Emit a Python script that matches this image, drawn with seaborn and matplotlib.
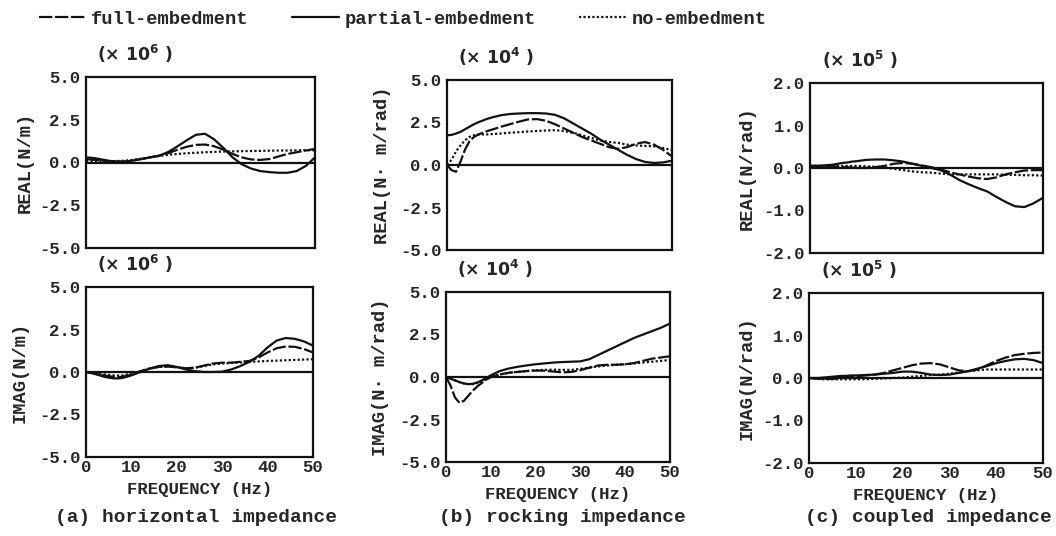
import numpy as np
import pandas as pd
import matplotlib
matplotlib.use("Agg")
import matplotlib.pyplot as plt
from matplotlib.lines import Line2D
import seaborn as sns

sns.set_style("white")
plt.rcParams["font.family"] = ["Liberation Mono", "DejaVu Sans"]
plt.rcParams["mathtext.default"] = "regular"

# Frequency grid (Hz) shared by every curve
FREQ = [0, 1, 2, 3, 4, 5, 6, 7, 8, 9, 10, 12, 14, 16, 18, 20, 22, 24, 26,
        28, 30, 32, 34, 36, 38, 40, 42, 44, 46, 48, 50]

CASES = ["full-embedment", "partial-embedment", "no-embedment"]

# (a) horizontal impedance
H_REAL_FULL = [0.2, 0.18, 0.15, 0.12, 0.1, 0.08, 0.06, 0.05, 0.05, 0.07, 0.1, 0.2, 0.3, 0.4, 0.55,
               0.75, 0.92, 1.03, 1.05, 0.95, 0.75, 0.5, 0.3, 0.18, 0.15, 0.2, 0.35, 0.5, 0.6, 0.7, 0.8]
H_REAL_PART = [0.3, 0.28, 0.25, 0.2, 0.15, 0.1, 0.08, 0.06, 0.05, 0.07, 0.1, 0.2, 0.3, 0.4, 0.62,
               0.95, 1.3, 1.62, 1.68, 1.35, 0.85, 0.3, -0.1, -0.35, -0.5, -0.56, -0.6, -0.6, -0.5, -0.2, 0.3]
H_REAL_NONE = [0.1, 0.1, 0.09, 0.08, 0.08, 0.08, 0.08, 0.09, 0.1, 0.12, 0.15, 0.22, 0.3, 0.38, 0.45,
               0.5, 0.54, 0.57, 0.6, 0.62, 0.64, 0.65, 0.66, 0.67, 0.68, 0.69, 0.7, 0.7, 0.71, 0.72, 0.72]
H_IMAG_FULL = [0.0, -0.04, -0.1, -0.15, -0.2, -0.25, -0.28, -0.3, -0.28, -0.22, -0.15, 0.05, 0.2, 0.3, 0.32,
               0.28, 0.22, 0.25, 0.38, 0.5, 0.55, 0.55, 0.6, 0.65, 0.85, 1.15, 1.4, 1.5, 1.48, 1.35, 1.15]
H_IMAG_PART = [0.0, -0.05, -0.12, -0.2, -0.28, -0.33, -0.37, -0.38, -0.35, -0.28, -0.2, 0.0, 0.2, 0.35, 0.4,
               0.3, 0.15, 0.05, 0.0, 0.0, 0.02, 0.15, 0.35, 0.6, 0.95, 1.45, 1.85, 2.0, 1.95, 1.8, 1.55]
H_IMAG_NONE = [0.0, -0.03, -0.06, -0.1, -0.14, -0.17, -0.2, -0.21, -0.2, -0.15, -0.1, 0.05, 0.2, 0.3, 0.32,
               0.28, 0.22, 0.25, 0.35, 0.45, 0.5, 0.53, 0.56, 0.6, 0.62, 0.65, 0.67, 0.69, 0.71, 0.73, 0.75]

# (b) rocking impedance
R_REAL_FULL = [0.0, -0.3, -0.4, 0.2, 0.9, 1.4, 1.65, 1.8, 1.9, 2.0, 2.08, 2.25, 2.4, 2.55, 2.68,
               2.7, 2.6, 2.4, 2.15, 1.9, 1.65, 1.45, 1.25, 1.05, 0.95, 1.05, 1.25, 1.35, 1.2, 0.9, 0.5]
R_REAL_PART = [1.75, 1.77, 1.85, 1.95, 2.1, 2.25, 2.4, 2.52, 2.62, 2.72, 2.8, 2.93, 3.0, 3.03, 3.05,
               3.05, 3.03, 2.95, 2.75, 2.45, 2.15, 1.85, 1.5, 1.2, 0.9, 0.6, 0.35, 0.18, 0.12, 0.15, 0.25]
R_REAL_NONE = [0.0, 0.3, 0.8, 1.15, 1.45, 1.65, 1.75, 1.78, 1.8, 1.8, 1.82, 1.85, 1.9, 1.93, 1.97,
               2.0, 2.03, 2.05, 2.0, 1.9, 1.75, 1.6, 1.45, 1.35, 1.3, 1.2, 1.15, 1.12, 1.1, 1.0, 0.88]
R_IMAG_FULL = [0.0, -0.5, -1.2, -1.52, -1.4, -1.1, -0.8, -0.55, -0.35, -0.15, 0.0, 0.15, 0.25, 0.3, 0.35,
               0.38, 0.37, 0.32, 0.27, 0.3, 0.4, 0.55, 0.68, 0.72, 0.72, 0.75, 0.82, 0.95, 1.08, 1.15, 1.22]
R_IMAG_PART = [0.0, -0.1, -0.2, -0.3, -0.38, -0.42, -0.4, -0.32, -0.2, -0.05, 0.1, 0.35, 0.5, 0.6, 0.68,
               0.75, 0.8, 0.85, 0.88, 0.9, 0.92, 1.05, 1.3, 1.55, 1.8, 2.05, 2.3, 2.5, 2.7, 2.9, 3.15]
R_IMAG_NONE = [0.0, -0.1, -0.2, -0.3, -0.38, -0.42, -0.42, -0.35, -0.25, -0.12, 0.0, 0.15, 0.25, 0.3, 0.35,
               0.4, 0.42, 0.43, 0.42, 0.42, 0.48, 0.55, 0.62, 0.68, 0.72, 0.75, 0.8, 0.85, 0.9, 0.95, 1.0]

# (c) coupled impedance
C_REAL_FULL = [0.05, 0.05, 0.05, 0.05, 0.04, 0.04, 0.03, 0.02, 0.02, 0.01, 0.0, 0.0, 0.02, 0.05, 0.1,
               0.12, 0.1, 0.06, 0.02, -0.03, -0.1, -0.15, -0.2, -0.24, -0.26, -0.22, -0.15, -0.1, -0.06, -0.05, -0.05]
C_REAL_PART = [0.05, 0.05, 0.05, 0.06, 0.07, 0.08, 0.1, 0.12, 0.13, 0.15, 0.16, 0.19, 0.2, 0.2, 0.18,
               0.15, 0.1, 0.05, 0.0, -0.05, -0.15, -0.28, -0.38, -0.47, -0.55, -0.68, -0.8, -0.9, -0.92, -0.83, -0.7]
C_REAL_NONE = [0.05, 0.05, 0.05, 0.05, 0.05, 0.05, 0.05, 0.05, 0.05, 0.05, 0.05, 0.04, 0.03, 0.01, -0.02,
               -0.05, -0.08, -0.1, -0.11, -0.13, -0.15, -0.15, -0.15, -0.15, -0.15, -0.15, -0.16, -0.16, -0.17, -0.17, -0.18]
C_IMAG_FULL = [0.0, -0.01, -0.02, -0.02, -0.02, -0.02, -0.01, 0.0, 0.02, 0.03, 0.04, 0.06, 0.08, 0.12, 0.18,
               0.24, 0.3, 0.34, 0.35, 0.32, 0.25, 0.18, 0.16, 0.2, 0.3, 0.4, 0.48, 0.54, 0.57, 0.59, 0.6]
C_IMAG_PART = [0.0, 0.0, 0.0, 0.01, 0.02, 0.03, 0.04, 0.05, 0.05, 0.06, 0.06, 0.07, 0.08, 0.1, 0.12,
               0.15, 0.15, 0.12, 0.08, 0.07, 0.08, 0.12, 0.16, 0.22, 0.28, 0.35, 0.4, 0.44, 0.45, 0.42, 0.35]
C_IMAG_NONE = [0.0, -0.01, -0.02, -0.03, -0.03, -0.03, -0.03, -0.03, -0.03, -0.03, -0.03, -0.03, -0.02, -0.01, 0.0,
               0.01, 0.03, 0.05, 0.07, 0.08, 0.1, 0.13, 0.16, 0.18, 0.2, 0.2, 0.2, 0.2, 0.2, 0.2, 0.2]

Y_TICKS_HR = [-5.0, -2.5, 0.0, 2.5, 5.0]
Y_TICKS_C = [-2.0, -1.0, 0.0, 1.0, 2.0]
X_TICKS = [0, 10, 20, 30, 40, 50]

W, H = 1056, 536
fig = plt.figure(figsize=(W / 100, H / 100), dpi=100)

INK = "#111111"
PALETTE = {c: INK for c in CASES}
DASHES = {"full-embedment": (6, 1.2), "partial-embedment": "", "no-embedment": (1, 1)}
LW = 1.6


def px_axes(left, right, top, bottom):
    return fig.add_axes([left / W, 1 - bottom / H, (right - left) / W, (bottom - top) / H])


def draw(ax, full, part, none, yticks, ylabel, scale, bottom_row):
    df = pd.DataFrame({
        "freq": FREQ * 3,
        "value": list(full) + list(part) + list(none),
        "case": [CASES[0]] * len(FREQ) + [CASES[1]] * len(FREQ) + [CASES[2]] * len(FREQ),
    })
    sns.lineplot(data=df, x="freq", y="value", hue="case", style="case",
                 palette=PALETTE, dashes=DASHES, linewidth=LW, ax=ax, legend=False)
    ax.axhline(0, color=INK, lw=LW)
    ax.set_xlim(0, 50)
    ax.set_ylim(yticks[0], yticks[-1])
    ax.set_yticks(yticks)
    ax.set_yticklabels([f"{t:.1f}" for t in yticks], fontsize=12.5, fontweight="bold")
    ax.set_xticks(X_TICKS)
    if bottom_row:
        ax.set_xticklabels([str(t) for t in X_TICKS], fontsize=12.5, fontweight="bold")
        ax.set_xlabel("FREQUENCY (Hz)", fontsize=12.5, fontweight="bold", labelpad=5)
    else:
        ax.set_xticklabels([])
        ax.set_xlabel("")
    ax.set_ylabel(ylabel, fontsize=13.5, fontweight="bold")
    ax.tick_params(axis="y", direction="out", length=3, width=1.2, pad=1, color=INK)
    ax.tick_params(axis="x", direction="in", length=3, width=1.2, pad=2, color=INK)
    for s in ax.spines.values():
        s.set_color(INK)
        s.set_linewidth(1.6)
    ax.text(0.05, 1.07, r"($\times$ 10$^{%d}$ )" % scale, transform=ax.transAxes,
            fontsize=12.5, fontweight="bold", ha="left", va="bottom", family="DejaVu Sans")
    return ax


panels = [
    # (left, right, top, bottom), data, ticks, label, exponent, bottom row, ylabel x (px)
    ((86, 315, 77, 248), (H_REAL_FULL, H_REAL_PART, H_REAL_NONE), Y_TICKS_HR, "REAL(N/m)", 6, False, 34),
    ((86, 313, 287, 457), (H_IMAG_FULL, H_IMAG_PART, H_IMAG_NONE), Y_TICKS_HR, "IMAG(N/m)", 6, True, 29),
    ((447, 672, 80, 250), (R_REAL_FULL, R_REAL_PART, R_REAL_NONE), Y_TICKS_HR, "REAL(N\u00b7 m/rad)", 4, False, 391),
    ((446, 670, 292, 462), (R_IMAG_FULL, R_IMAG_PART, R_IMAG_NONE), Y_TICKS_HR, "IMAG(N\u00b7 m/rad)", 4, True, 389),
    ((810, 1043, 83, 253), (C_REAL_FULL, C_REAL_PART, C_REAL_NONE), Y_TICKS_C, "REAL(N/rad)", 5, False, 756),
    ((809, 1043, 293, 463), (C_IMAG_FULL, C_IMAG_PART, C_IMAG_NONE), Y_TICKS_C, "IMAG(N/rad)", 5, True, 756),
]

for (l, r, t, b), (f, p, n), yt, lab, sc, bot, ylx in panels:
    ax = px_axes(l, r, t, b)
    draw(ax, f, p, n, yt, lab, sc, bot)
    ax.yaxis.set_label_coords((ylx - l) / (r - l), 0.5)

captions = [("(a) horizontal impedance", 196), ("(b) rocking impedance", 562), ("(c) coupled impedance", 928)]
for txt, cx in captions:
    fig.text(cx / W, 1 - 517 / H, txt, ha="center", va="center", fontsize=14, fontweight="bold")

handles = [Line2D([], [], color=INK, lw=LW, dashes=DASHES[c]) if DASHES[c] else
           Line2D([], [], color=INK, lw=LW) for c in CASES]
fig.legend(handles, CASES, loc="upper left", bbox_to_anchor=(22 / W, 1 + 6 / H), ncol=3,
           frameon=False, prop={"size": 13.5, "weight": "bold"},
           handlelength=2.5, handletextpad=0.3, columnspacing=2.3)

fig.savefig("out.png", dpi=100)
